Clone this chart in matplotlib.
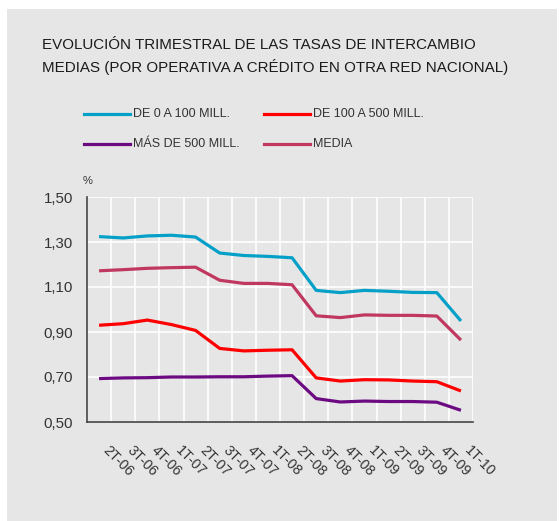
import matplotlib
matplotlib.use("Agg")
import matplotlib.pyplot as plt
from matplotlib.lines import Line2D
from matplotlib.patches import Rectangle
from matplotlib.transforms import ScaledTranslation
import numpy as np

plt.rcParams['font.family'] = ['Liberation Sans', 'DejaVu Sans']

categories = ["2T-06", "3T-06", "4T-06", "1T-07", "2T-07", "3T-07", "4T-07", "1T-08",
              "2T-08", "3T-08", "4T-08", "1T-09", "2T-09", "3T-09", "4T-09", "1T-10"]
de_0_a_100 = [1.324, 1.318, 1.327, 1.330, 1.322, 1.251, 1.240, 1.236, 1.230,
              1.085, 1.075, 1.085, 1.081, 1.076, 1.075, 0.949]
de_100_a_500 = [0.930, 0.937, 0.953, 0.933, 0.907, 0.827, 0.816, 0.819, 0.821,
                0.696, 0.682, 0.688, 0.687, 0.682, 0.679, 0.638]
mas_de_500 = [0.693, 0.696, 0.697, 0.700, 0.700, 0.701, 0.701, 0.704, 0.706,
              0.604, 0.589, 0.593, 0.591, 0.591, 0.588, 0.552]
media = [1.172, 1.177, 1.183, 1.186, 1.188, 1.130, 1.116, 1.116, 1.110,
         0.972, 0.964, 0.976, 0.974, 0.974, 0.971, 0.864]
yticks = [0.50, 0.70, 0.90, 1.10, 1.30, 1.50]
ytick_labels = ["0,50", "0,70", "0,90", "1,10", "1,30", "1,50"]

series = [
    ("DE 0 A 100 MILL.", de_0_a_100, "#05a0c8"),
    ("DE 100 A 500 MILL.", de_100_a_500, "#ff0000"),
    ("MÁS DE 500 MILL.", mas_de_500, "#6c0a82"),
    ("MEDIA", media, "#c0385f"),
]

W, H = 559, 521
fig = plt.figure(figsize=(W / 100, H / 100), dpi=100)
fig.patch.set_facecolor("white")
bg = "#e6e6e6"
fig.add_artist(Rectangle((7 / W, 0), (557 - 7) / W, (H - 9) / H,
                         transform=fig.transFigure, facecolor=bg, edgecolor="none", zorder=0))

ax = fig.add_axes([87 / W, (H - 422) / H, (473 - 87) / W, (422 - 197) / H])
ax.set_facecolor(bg)
x = np.arange(len(categories))
for name, vals, col in series[::-1]:
    ax.plot(x, vals, color=col, lw=2.3, solid_capstyle="butt", zorder=3)

ax.set_xlim(-0.5, len(categories) - 0.5)
ax.set_ylim(0.5, 1.5)
ax.set_yticks(yticks)
ax.set_yticklabels(ytick_labels, fontsize=10.8, color="#333333")
ax.set_xticks(x)
ax.set_xticklabels(categories, fontsize=10.3, color="#333333", rotation=-45,
                   ha="left", va="top", rotation_mode="anchor")
ax.set_xticks(np.arange(-0.5, len(categories), 1.0), minor=True)
ax.tick_params(axis="both", which="both", length=0)
ax.tick_params(axis="y", pad=10)
ax.tick_params(axis="x", pad=15)
offset = ScaledTranslation(11 / 100, 0, fig.dpi_scale_trans)
for lab in ax.get_xticklabels():
    lab.set_transform(lab.get_transform() + offset)
ax.grid(True, axis="y", which="major", color="white", lw=1.2, zorder=1)
ax.grid(True, axis="x", which="minor", color="white", lw=1.2, zorder=1)
ax.grid(False, axis="x", which="major")
for s in ["top", "right"]:
    ax.spines[s].set_visible(False)
for s in ["left", "bottom"]:
    ax.spines[s].set_color("#444444")
    ax.spines[s].set_linewidth(1.2)
ax.set_axisbelow(True)

fig.text(88 / W, 1 - 181 / H, "%", fontsize=8, color="#333333", ha="center", va="center")

# Title
fig.text(42 / W, 1 - 45 / H, "EVOLUCIÓN TRIMESTRAL DE LAS TASAS DE INTERCAMBIO",
         fontsize=10.9, color="#1a1a1a", ha="left", va="center")
fig.text(42 / W, 1 - 67 / H, "MEDIAS (POR OPERATIVA A CRÉDITO EN OTRA RED NACIONAL)",
         fontsize=10.9, color="#1a1a1a", ha="left", va="center")

# Legend
leg_pos = [(84, 114), (264, 114), (84, 144), (264, 144)]
for (name, vals, col), (lx, ly) in zip(series, leg_pos):
    fig.add_artist(Line2D([lx / W, (lx + 46) / W], [1 - ly / H, 1 - ly / H],
                          transform=fig.transFigure, color=col, lw=2.3))
    fig.text((lx + 49) / W, 1 - ly / H, name, fontsize=9, color="#333333",
             ha="left", va="center")

fig.savefig("out.png", dpi=100, facecolor=fig.get_facecolor())
